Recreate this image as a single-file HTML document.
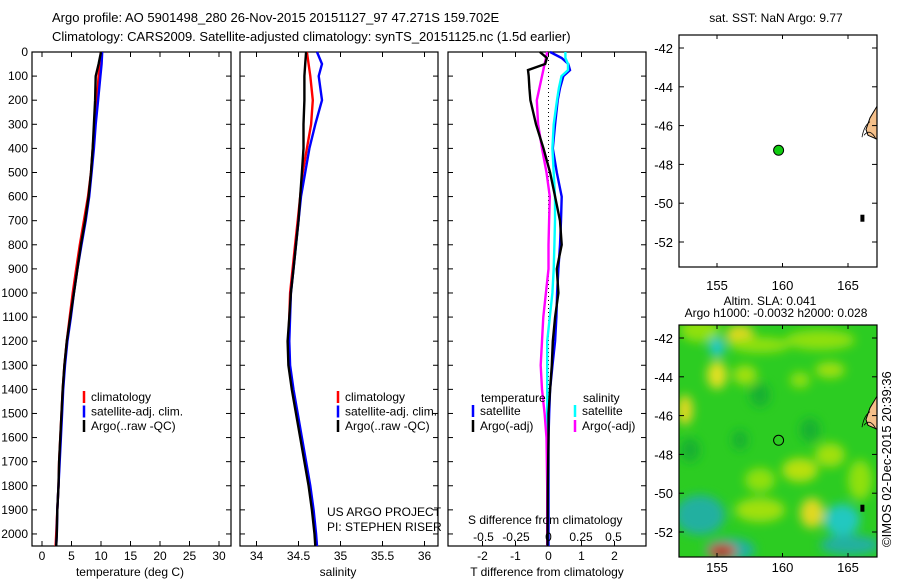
<!DOCTYPE html>
<html><head><meta charset="utf-8"><style>
body{margin:0;background:#fff;}
svg{display:block;font-family:"Liberation Sans",sans-serif;font-size:12px;}
</style></head><body>
<svg id="fig" width="900" height="580" viewBox="0 0 900 580">
<defs>
<filter id="blur" x="-20%" y="-20%" width="140%" height="140%"><feGaussianBlur stdDeviation="5"/></filter>
<clipPath id="map2clip"><rect x="679" y="325" width="198" height="232"/></clipPath>
<clipPath id="map1clip"><rect x="679" y="35" width="198" height="232"/></clipPath>
</defs>
<text x="52" y="22" font-size="13">Argo profile: AO 5901498_280 26-Nov-2015 20151127_97 47.271S 159.702E</text>
<text x="52" y="41" font-size="13">Climatology: CARS2009. Satellite-adjusted climatology: synTS_20151125.nc (1.5d earlier)</text>
<g id="layer"></g>
</svg>
<script>
// depth levels (dbar) for profiles
const depths = [0,50,100,200,300,400,500,600,700,800,900,1000,1100,1200,1300,1400,1500,1600,1700,1800,1900,2000,2050];
const tempArgo = [10.0,9.6,9.1,9.0,8.8,8.6,8.3,7.9,7.3,6.6,6.0,5.4,4.8,4.2,3.8,3.5,3.3,3.1,2.9,2.8,2.6,2.5,2.4];
const tempClim = [10.0,9.8,9.6,9.3,8.9,8.6,8.3,7.8,7.1,6.4,5.8,5.2,4.7,4.2,3.8,3.5,3.3,3.1,2.9,2.8,2.6,2.4,2.3];
const tempSat = [10.2,10.1,9.9,9.5,9.1,8.8,8.4,8.0,7.4,6.7,6.0,5.4,4.9,4.3,3.9,3.6,3.4,3.2,3.0,2.8,2.6,2.5,2.4];
const salArgo = [34.59,34.58,34.57,34.57,34.56,34.56,34.54,34.52,34.50,34.47,34.44,34.41,34.39,34.37,34.38,34.42,34.47,34.52,34.57,34.62,34.66,34.69,34.70];
const salClim = [34.60,34.62,34.64,34.67,34.65,34.60,34.55,34.52,34.49,34.46,34.43,34.40,34.39,34.38,34.39,34.43,34.48,34.53,34.58,34.63,34.67,34.70,34.72];
const salSat = [34.72,34.78,34.74,34.78,34.70,34.63,34.58,34.53,34.50,34.47,34.44,34.41,34.40,34.39,34.40,34.44,34.49,34.54,34.59,34.64,34.68,34.71,34.72];
// difference panel
const diffDepths = [0,25,50,75,100,150,200,300,400,500,600,700,800,900,1000,1100,1200,1300,1400,1500,1600,1800,2050];
const tDiffSat = [0.05,0.4,0.6,0.65,0.45,0.35,0.28,0.2,0.13,0.25,0.4,0.38,0.35,0.3,0.26,0.24,0.2,0.12,0.05,0.02,0.0,0.0,0.0];
const tDiffArgo = [-0.26,-0.05,-0.1,-0.62,-0.6,-0.58,-0.55,-0.38,-0.15,0.05,0.2,0.35,0.4,0.25,0.3,0.2,0.13,0.1,0.05,0.0,0.0,-0.02,-0.03];
const sDiffSat = [0.13,0.13,0.15,0.15,0.1,0.08,0.065,0.04,0.03,0.04,0.05,0.05,0.045,0.04,0.03,0.01,-0.01,-0.01,-0.01,-0.01,-0.01,-0.01,-0.01];
const sDiffArgo = [-0.01,-0.02,-0.03,-0.04,-0.05,-0.07,-0.09,-0.08,-0.05,-0.015,0.01,0.005,0.0,0.0,-0.02,-0.04,-0.05,-0.06,-0.05,-0.03,-0.015,-0.01,-0.01];
// ticks
const depthTicks = [0,100,200,300,400,500,600,700,800,900,1000,1100,1200,1300,1400,1500,1600,1700,1800,1900,2000];
const tempTicks = [0,5,10,15,20,25,30];
const salTicks = [34,34.5,35,35.5,36];
const tdTicks = [-2,-1,0,1,2];
const sdTicks = [-0.5,-0.25,0,0.25,0.5];
const latTicks = [-42,-44,-46,-48,-50,-52];
const lonTicks = [155,160,165];
const argoLat = -47.271, argoLon = 159.702;

const NS='http://www.w3.org/2000/svg';
const L=document.getElementById('layer');
function mk(tag,attrs,parent){const e=document.createElementNS(NS,tag);for(const k in attrs)e.setAttribute(k,attrs[k]);(parent||L).appendChild(e);return e;}
function txt(x,y,s,anchor,parent,size){const t=mk('text',{x:x,y:y,'text-anchor':anchor||'start','font-size':size||12},parent);t.textContent=s;return t;}

const yTop=52,yBot=546;
const yD=d=>yTop+(yBot-yTop)*d/2050;
function panel(name,x0,x1,xs,ticks,lbls){
  const g=mk('g',{});
  
  
  mk('rect',{x:x0,y:yTop,width:x1-x0,height:yBot-yTop,fill:'none',stroke:'#000','stroke-width':1.2},g);
  depthTicks.forEach(d=>{const y=yD(d);mk('line',{x1:x0,x2:x0+5,y1:y,y2:y,stroke:'#000'},g);mk('line',{x1:x1-5,x2:x1,y1:y,y2:y,stroke:'#000'},g);});
  ticks.forEach((v,i)=>{const x=xs(v);mk('line',{x1:x,x2:x,y1:yTop,y2:yTop+5,stroke:'#000'},g);mk('line',{x1:x,x2:x,y1:yBot-5,y2:yBot,stroke:'#000'},g);
    if(lbls){txt(x,560,String(v),'middle',g);}});
  return g;
}
function line(g,xs,dd,vals,color,name,w){
  const pts=vals.map((v,i)=>xs(v).toFixed(1)+','+yD(dd[i]).toFixed(1)).join(' ');
  const p=mk('polyline',{points:pts,fill:'none',stroke:color,'stroke-width':w||2.4},g);
  
  
}
const yl=mk('g',{});


depthTicks.forEach(d=>txt(28,yD(d)+4,String(d),'end',yl));

// panel 1
const xT=v=>42+5.9*v;
const p1=panel('temperature-panel',32,231,xT,tempTicks,true);
line(p1,xT,depths,tempClim,'#f00','climatology-temp-line');
line(p1,xT,depths,tempSat,'#00f','satellite-temp-line');
line(p1,xT,depths,tempArgo,'#000','argo-temp-line');
let t=txt(130,576,'temperature (deg C)','middle',p1);
function legend(g,x,items){items.forEach((it,i)=>{const y=398+i*14.5;mk('line',{x1:x,x2:x,y1:y-7,y2:y+5,stroke:it[0],'stroke-width':2.5},g);txt(x+7,y+3,it[1],'start',g);});}
legend(p1,84,[['#f00','climatology'],['#00f','satellite-adj. clim.'],['#000','Argo(..raw -QC)']]);

// panel 2
const xS=v=>256.5+84*(v-34);
const p2=panel('salinity-panel',240,438,xS,salTicks,true);
line(p2,xS,depths,salClim,'#f00','climatology-sal-line');
line(p2,xS,depths,salSat,'#00f','satellite-sal-line');
line(p2,xS,depths,salArgo,'#000','argo-sal-line');
t=txt(338,576,'salinity','middle',p2);
legend(p2,338,[['#f00','climatology'],['#00f','satellite-adj. clim.'],['#000','Argo(..raw -QC)']]);
txt(327,516,'US ARGO PROJECT','start',p2);txt(327,531,'PI: STEPHEN RISER','start',p2);

// panel 3
const xTD=v=>548.5+33*v;
const xSD=v=>548.5+130*v;
const p3=panel('difference-panel',448,646,xTD,tdTicks,true);
mk('line',{x1:548.5,x2:548.5,y1:yTop,y2:yBot,stroke:'#000','stroke-dasharray':'1,3'},p3);
line(p3,xTD,diffDepths,tDiffSat,'#00f','satellite-tdiff-line');
line(p3,xSD,diffDepths,sDiffSat,'#0ff','satellite-sdiff-line');
line(p3,xSD,diffDepths,sDiffArgo,'#f0f','argo-sdiff-line');
line(p3,xTD,diffDepths,tDiffArgo,'#000','argo-tdiff-line');
sdTicks.forEach(v=>txt(xSD(v),541,String(v),'middle',p3));
txt(468,524,'S difference from climatology','start',p3);
t=txt(547,576,'T difference from climatology','middle',p3);
txt(481,402,'temperature','start',p3);txt(583,402,'salinity','start',p3);
[['#00f',473,'satellite',0],['#000',473,'Argo(-adj)',1],['#0ff',575,'satellite',0],['#f0f',575,'Argo(-adj)',1]].forEach(a=>{const y=412+a[3]*15;mk('line',{x1:a[1],x2:a[1],y1:y-7,y2:y+5,stroke:a[0],'stroke-width':2.5},p3);txt(a[1]+7,y+3,a[2],'start',p3);});

// maps
const lonX=v=>717+13.1*(v-155);
function map(name){
  const g=mk('g',{});
  
  
  return g;
}
function mapAxes(g,y0,h,latY,lonLblY){
  mk('rect',{x:679,y:y0,width:198,height:h,fill:'none',stroke:'#000','stroke-width':1.2},g);
  latTicks.forEach(v=>{const y=latY(v);mk('line',{x1:679,x2:684,y1:y,y2:y,stroke:'#000'},g);mk('line',{x1:872,x2:877,y1:y,y2:y,stroke:'#000'},g);txt(673,y+5,String(v),'end',g,13);});
  lonTicks.forEach(v=>{const x=lonX(v);mk('line',{x1:x,x2:x,y1:y0,y2:y0+4,stroke:'#000'},g);mk('line',{x1:x,x2:x,y1:y0+h-4,y2:y0+h,stroke:'#000'},g);txt(x,lonLblY,String(v),'middle',g,13);});
}
function coast(g,latY){
  mk('path',{d:`M877 ${latY(-45)} L870 ${latY(-45.6)} L866 ${latY(-46.2)} L868 ${latY(-46.5)} L877 ${latY(-46.7)} Z`,fill:'#f5c08a',stroke:'#000','stroke-width':1},g);
  mk('path',{d:`M862 ${latY(-46.6)} Q864 ${latY(-46.0)} 870 ${latY(-45.8)} M864 ${latY(-46.5)} Q870 ${latY(-46.1)} 876 ${latY(-46.7)}`,fill:'none',stroke:'#000','stroke-width':0.8},g);
  mk('rect',{x:lonX(166.1)-2,y:latY(-50.8)-4,width:4,height:7,fill:'#000'},g);
}
const lat1=v=>48+19.4*(-42-v);
const m1=map('sst-map');
mk('rect',{x:679,y:35,width:198,height:232,fill:'#fff'},m1);
coast(mk('g',{'clip-path':'url(#map1clip)'},m1),lat1);
mapAxes(m1,35,232,lat1,290);
txt(776,22,'sat. SST: NaN Argo: 9.77','middle',m1);
const dot=mk('circle',{cx:lonX(argoLon),cy:lat1(argoLat),r:5,fill:'#1c1',stroke:'#000'},m1);



const lat2=v=>338+19.4*(-42-v);
const m2=map('sla-map');
const bg=mk('g',{'clip-path':'url(#map2clip)'},m2);
mk('rect',{x:679,y:325,width:198,height:232,fill:'#2ccc22'},bg);
const blobs=mk('g',{filter:'url(#blur)'},bg);
[[700,330,20,12,'#90e010'],[740,335,14,10,'#e0d820'],[717,347,8,10,'#20c8c8'],[760,345,30,8,'#90e010'],[820,340,35,10,'#90e010'],
[717,375,10,14,'#e0e020'],[745,375,12,10,'#a0e010'],[800,380,10,8,'#90e010'],[830,370,15,8,'#a0e010'],
[685,410,8,15,'#e0d820'],[760,395,10,12,'#18b030'],[690,450,10,12,'#18b030'],[740,440,8,10,'#18b030'],[810,430,10,12,'#18b030'],
[800,470,18,12,'#b8e010'],[760,480,15,12,'#90e010'],[830,455,15,12,'#a0e010'],
[700,515,25,20,'#20b0a0'],[760,510,25,12,'#a0e010'],[812,513,12,15,'#e0d820'],[842,520,18,16,'#20c8c0'],[850,545,30,10,'#20b0a0'],
[730,550,25,12,'#20b0a0'],[722,551,14,7,'#d04010'],[722,554,6,4,'#901000'],[860,480,12,20,'#90e010']]
.forEach(b=>mk('ellipse',{cx:b[0],cy:b[1],rx:b[2],ry:b[3],fill:b[4]},blobs));
coast(bg,lat2);
mapAxes(m2,325,232,lat2,572);
txt(770,305,'Altim. SLA: 0.041','middle',m2);
txt(776,317,'Argo h1000: -0.0032 h2000: 0.028','middle',m2);
const ring=mk('circle',{cx:lonX(argoLon),cy:lat2(argoLat),r:5,fill:'none',stroke:'#000'},m2);


const cr=txt(0,0,'©IMOS 02-Dec-2015 20:39:36','start',m2,13);
cr.setAttribute('transform','translate(891,547) rotate(-90)');


</script>
</body></html>
